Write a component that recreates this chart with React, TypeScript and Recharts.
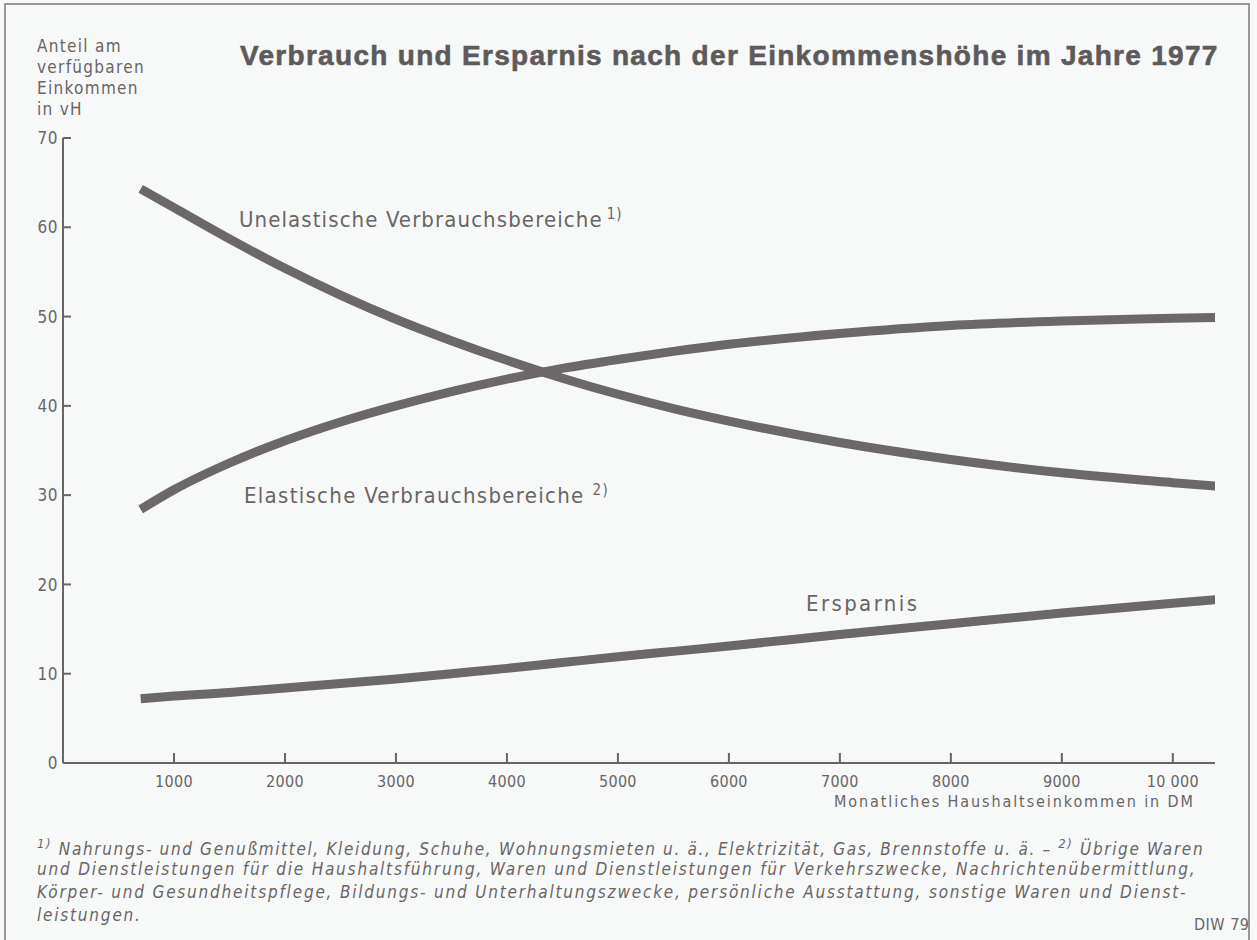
import React from "react";
import { LineChart, Line, XAxis, YAxis } from "recharts";

const incomes = [700, 1000, 1500, 2000, 2500, 3000, 3500, 4000, 4500, 5000, 5500, 6000, 7000, 8000, 9000, 10000, 10400];
const unelastisch = [64.3, 62.2, 58.7, 55.4, 52.4, 49.7, 47.3, 45.1, 43.1, 41.3, 39.7, 38.3, 35.9, 34.0, 32.5, 31.4, 31.0];
const elastisch = [28.4, 30.6, 33.6, 36.1, 38.2, 40.0, 41.6, 43.0, 44.2, 45.2, 46.1, 46.9, 48.1, 49.0, 49.5, 49.8, 49.9];
const ersparnis = [7.2, 7.5, 7.9, 8.4, 8.9, 9.4, 10.0, 10.6, 11.25, 11.9, 12.5, 13.1, 14.4, 15.6, 16.8, 17.9, 18.3];
const xTicks = [1000, 2000, 3000, 4000, 5000, 6000, 7000, 8000, 9000, 10000];
const yTicks = [0, 10, 20, 30, 40, 50, 60, 70];

const title = "Verbrauch und Ersparnis nach der Einkommenshöhe im Jahre 1977";
const yTitle = ["Anteil am", "verfügbaren", "Einkommen", "in vH"];
const xTitle = "Monatliches Haushaltseinkommen in DM";
const labelUnelastisch = "Unelastische Verbrauchsbereiche";
const labelElastisch = "Elastische Verbrauchsbereiche";
const labelErsparnis = "Ersparnis";
const footnotes = [
  "Nahrungs- und Genußmittel, Kleidung, Schuhe, Wohnungsmieten u. ä., Elektrizität, Gas, Brennstoffe u. ä. –",
  "und Dienstleistungen für die Haushaltsführung, Waren und Dienstleistungen für Verkehrszwecke, Nachrichtenübermittlung,",
  "Körper- und Gesundheitspflege, Bildungs- und Unterhaltungszwecke, persönliche Ausstattung, sonstige Waren und Dienst-",
  "leistungen.",
];
const source = "DIW 79";

const data = incomes.map((x, i) => ({
  x,
  u: unelastisch[i],
  e: elastisch[i],
  s: ersparnis[i],
}));

const INK = "#6a6565";
const LINE = "#6d6868";
const FONT = "'DejaVu Sans Condensed', 'DejaVu Sans', sans-serif";

const fmt = (v: number) => (v >= 10000 ? String(v).replace(/(\d+)(\d{3})$/, "$1 $2") : String(v));

const YTick = (props: any) => {
  const { x, y, payload } = props;
  return (
    <g>
      <line x1={x} x2={x + 8} y1={y} y2={y} stroke={INK} strokeWidth={2} />
      <text x={x - 5} y={y} dy="0.36em" textAnchor="end" fill={INK} fontSize={17} fontFamily={FONT} letterSpacing={0.5}>
        {payload.value}
      </text>
    </g>
  );
};

const XTick = (props: any) => {
  const { x, y, payload } = props;
  return (
    <g>
      <line x1={x} x2={x} y1={y} y2={y - 10} stroke={INK} strokeWidth={2} />
      <text x={x} y={y + 18} dy="0.36em" textAnchor="middle" fill={INK} fontSize={16} fontFamily={FONT} letterSpacing={0.3}>
        {fmt(payload.value)}
      </text>
    </g>
  );
};

const abs = (style: React.CSSProperties): React.CSSProperties => ({
  position: "absolute",
  whiteSpace: "nowrap",
  color: INK,
  fontFamily: FONT,
  lineHeight: 1,
  ...style,
});

export default function App() {
  return (
    <div
      style={{
        position: "absolute",
        left: 0,
        top: 0,
        width: 1257,
        height: 940,
        background: "#f7f8f8",
        overflow: "hidden",
      }}
    >
      <div
        style={{
          position: "absolute",
          left: 4,
          top: 3,
          width: 1246,
          height: 945,
          border: "2px solid #9a9696",
          boxSizing: "border-box",
        }}
      />
      <div style={{ position: "absolute", left: 0, top: 0 }}>
        <LineChart
          width={1257}
          height={940}
          data={data}
          margin={{ top: 138, right: 42, bottom: 137, left: 3 }}
        >
          <XAxis
            dataKey="x"
            type="number"
            domain={[0, 10380]}
            ticks={xTicks}
            axisLine={{ stroke: INK, strokeWidth: 2 }}
            tickLine={false}
            tickSize={0}
            tickMargin={0}
            tick={<XTick />}
            height={40}
            allowDataOverflow
          />
          <YAxis
            type="number"
            domain={[0, 70]}
            ticks={yTicks}
            axisLine={{ stroke: INK, strokeWidth: 2 }}
            tickLine={false}
            tickSize={0}
            tickMargin={0}
            tick={<YTick />}
            width={60}
            allowDataOverflow
          />
          <Line dataKey="u" type="monotone" stroke={LINE} strokeWidth={9} dot={false} isAnimationActive={false} strokeLinecap="butt" />
          <Line dataKey="e" type="monotone" stroke={LINE} strokeWidth={9} dot={false} isAnimationActive={false} strokeLinecap="butt" />
          <Line dataKey="s" type="monotone" stroke={LINE} strokeWidth={9} dot={false} isAnimationActive={false} strokeLinecap="butt" />
        </LineChart>
      </div>

      <div
        style={abs({
          left: 240,
          top: 42,
          fontSize: 28,
          fontWeight: "bold",
          fontFamily: "'Liberation Sans', Arial, sans-serif",
          letterSpacing: 1.3,
          color: "#5f5a5a",
          WebkitTextStroke: "0.6px #5f5a5a",
        })}
      >
        {title}
      </div>
      {yTitle.map((t, i) => (
        <div key={t} style={abs({ left: 37, top: 38 + i * 21, fontSize: 17, letterSpacing: 1.3 })}>
          {t}
        </div>
      ))}
      <div style={abs({ left: 239, top: 207, fontSize: 22, letterSpacing: 1.1 })}>
        {labelUnelastisch}
        <sup style={{ fontSize: 15, marginLeft: 4 }}>1)</sup>
      </div>
      <div style={abs({ left: 244, top: 483, fontSize: 22, letterSpacing: 1.3 })}>
        {labelElastisch}
        <sup style={{ fontSize: 15, marginLeft: 8 }}>2)</sup>
      </div>
      <div style={abs({ left: 806, top: 593, fontSize: 22, letterSpacing: 2.4 })}>{labelErsparnis}</div>
      <div style={abs({ left: 834, top: 794, fontSize: 16, letterSpacing: 1.9 })}>{xTitle}</div>

      <div style={abs({ left: 37, top: 837, fontSize: 17, fontStyle: "italic", letterSpacing: 1.65 })}>
        <sup style={{ fontSize: 13 }}>1)</sup> {footnotes[0]} <sup style={{ fontSize: 13 }}>2)</sup> Übrige Waren
      </div>
      {footnotes.slice(1).map((t, i) => (
        <div key={i} style={abs({ left: 37, top: 861 + i * 23, fontSize: 17, fontStyle: "italic", letterSpacing: 1.8 })}>
          {t}
        </div>
      ))}
      <div style={abs({ left: 1194, top: 917, fontSize: 16, letterSpacing: 0.5 })}>{source}</div>
    </div>
  );
}
